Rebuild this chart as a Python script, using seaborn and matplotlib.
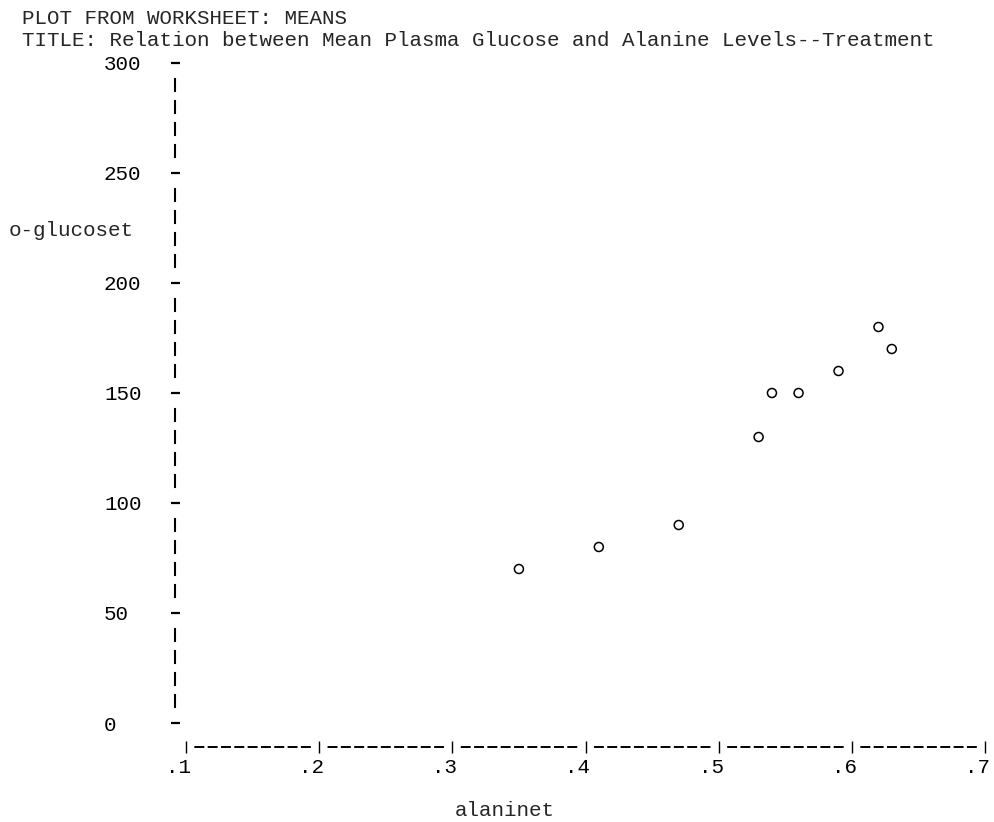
import matplotlib
matplotlib.use("Agg")
import matplotlib.pyplot as plt
import seaborn as sns
import pandas as pd
from matplotlib.transforms import ScaledTranslation

# ---- data ----
alanine = [0.35, 0.41, 0.47, 0.53, 0.54, 0.56, 0.59, 0.62, 0.63]
glucose = [70, 80, 90, 130, 150, 150, 160, 180, 170]
x_ticks = [0.1, 0.2, 0.3, 0.4, 0.5, 0.6, 0.7]
x_tick_labels = [".1", ".2", ".3", ".4", ".5", ".6", ".7"]
y_ticks = [0, 50, 100, 150, 200, 250, 300]
y_tick_labels = ["0", "50", "100", "150", "200", "250", "300"]
header_line = "PLOT FROM WORKSHEET: MEANS"
title_line = "TITLE: Relation between Mean Plasma Glucose and Alanine Levels--Treatment"
x_name = "alaninet"
y_name = "o-glucoset"

df = pd.DataFrame({x_name: alanine, y_name: glucose})

sns.set_style("white")
plt.rcParams['font.family'] = ['Liberation Mono', 'DejaVu Sans Mono']
plt.rcParams['lines.scale_dashes'] = False
FS = 15
PX = 0.72  # points per pixel at dpi 100

W, H = 995, 822
fig = plt.figure(figsize=(W / 100, H / 100), dpi=100)
ax = fig.add_axes([186 / W, 1 - 723 / H, (985 - 186) / W, (723 - 63) / H])

sns.scatterplot(data=df, x=x_name, y=y_name, ax=ax, marker='o', s=42,
                facecolors='none', edgecolor='black', linewidth=1.1,
                clip_on=False, zorder=3)

ax.set_xlim(0.1, 0.7)
ax.set_ylim(0, 300)

# spines drawn like typewriter characters
for s in ("top", "right"):
    ax.spines[s].set_visible(False)

ls = ax.spines["left"]
ls.set_position(("outward", 11 * PX))
ls.set_linewidth(1.5)
ls.set_color("black")
ypat = [12, 10, 12, 10, 12, 10, 12, 32]
ls.set_linestyle((94 * PX, [v * PX for v in ypat]))

bs = ax.spines["bottom"]
bs.set_position(("outward", 24 * PX))
bs.set_linewidth(1.4)
bs.set_color("black")
xpat = []
for i in range(9):
    xpat += [8, 5.32]
xpat[-1] = 18.64
bs.set_linestyle((123.88 * PX, [v * PX for v in xpat]))

ax.set_yticks(y_ticks, y_tick_labels)
ax.set_xticks(x_ticks, x_tick_labels)
ax.tick_params(axis='y', left=True, direction='inout', length=9 * PX, width=1.6,
               pad=(175 - 4.5 - 104) * PX, labelsize=FS, colors='black')
ax.tick_params(axis='x', bottom=True, direction='inout', length=12 * PX, width=1.0,
               pad=5 * PX, labelsize=FS, colors='black')
for lbl in ax.get_yticklabels():
    lbl.set_horizontalalignment('left')
off = ScaledTranslation(5 / 100, 0, fig.dpi_scale_trans)
for lbl in ax.get_xticklabels():
    lbl.set_horizontalalignment('right')
    lbl.set_transform(lbl.get_transform() + off)

ax.set_ylabel(y_name, rotation=0, ha='left', va='center', fontsize=FS)
ax.yaxis.set_label_coords((9 - 186) / 799, (723 - 231) / 660)
ax.set_xlabel(x_name, ha='center', va='center', fontsize=FS)
ax.xaxis.set_label_coords((505 - 186) / 799, (723 - 810) / 660)

fig.text(22 / W, 1 - 18 / H, header_line, ha='left', va='center', fontsize=FS)
fig.text(22 / W, 1 - 40 / H, title_line, ha='left', va='center', fontsize=FS)

fig.savefig("out.png", dpi=100)
